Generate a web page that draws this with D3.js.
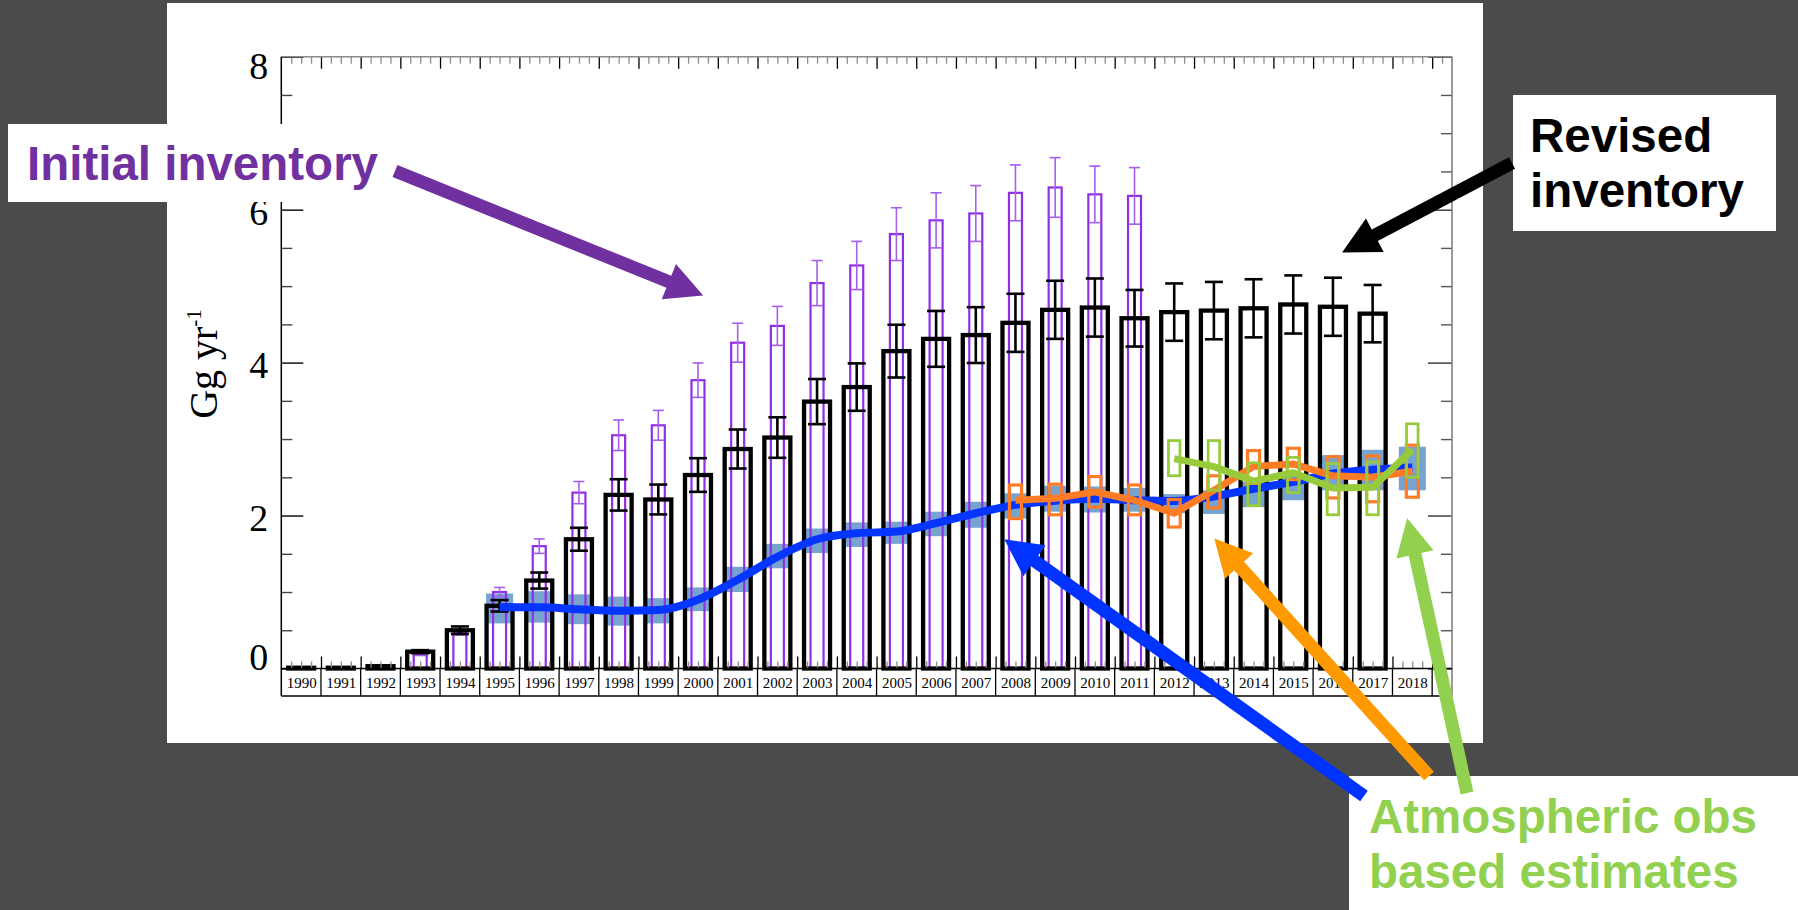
<!DOCTYPE html>
<html>
<head>
<meta charset="utf-8">
<script src="https://cdn.jsdelivr.net/npm/d3@7"></script>
<style>
  html, body { margin: 0; padding: 0; background: #4b4b4b; }
  svg { display: block; }
</style>
</head>
<body>
<svg id="chart" width="1798" height="910"></svg>
<script>
// ---- data ---------------------------------------------------------------
const years = [1990, 1991, 1992, 1993, 1994, 1995, 1996, 1997, 1998, 1999,
               2000, 2001, 2002, 2003, 2004, 2005, 2006, 2007, 2008, 2009,
               2010, 2011, 2012, 2013, 2014, 2015, 2016, 2017, 2018];

// revised inventory (black bars), Gg/yr
const revised    = [0.01, 0.01, 0.03, 0.22, 0.50, 0.82, 1.15, 1.69, 2.27, 2.21,
                    2.53, 2.87, 3.02, 3.49, 3.68, 4.15, 4.31, 4.36, 4.52, 4.69,
                    4.72, 4.58, 4.66, 4.68, 4.71, 4.76, 4.73, 4.64, null];
const revisedErr = [0, 0, 0.005, 0.02, 0.05, 0.075, 0.105, 0.15, 0.205, 0.195,
                    0.22, 0.255, 0.265, 0.295, 0.31, 0.345, 0.365, 0.365, 0.38, 0.38,
                    0.38, 0.37, 0.375, 0.375, 0.38, 0.38, 0.38, 0.375, null];

// initial inventory (purple bars)
const initial    = [0.005, 0.005, 0.02, 0.18, 0.47, 1.00, 1.60, 2.30, 3.05, 3.18,
                    3.77, 4.26, 4.48, 5.04, 5.27, 5.68, 5.86, 5.95, 6.22, 6.29,
                    6.20, 6.18, null, null, null, null, null, null, null];
const initialErr = [0, 0, 0, 0.01, 0.03, 0.06, 0.095, 0.145, 0.20, 0.195,
                    0.225, 0.255, 0.255, 0.295, 0.315, 0.345, 0.36, 0.365, 0.365, 0.39,
                    0.37, 0.37, null, null, null, null, null, null, null];

// global estimate (blue line with shaded range)
const globalYears = [1995, 1996, 1997, 1998, 1999, 2000, 2001, 2002, 2003, 2004, 2005, 2006,
                     2007, 2008, 2009, 2010, 2011, 2012, 2013, 2014, 2015, 2016, 2017, 2018];
const globalMid   = [0.80, 0.80, 0.775, 0.755, 0.765, 0.90, 1.16, 1.46, 1.69, 1.77, 1.79, 1.90,
                     2.03, 2.14, 2.195, 2.22, 2.20, 2.19, 2.25, 2.35, 2.44, 2.55, 2.60, 2.63];
const globalLo    = [0.59, 0.60, 0.58, 0.56, 0.59, 0.75, 1.00, 1.31, 1.51, 1.59, 1.63, 1.73,
                     1.84, 1.96, 2.05, 2.04, 2.05, 2.03, 2.02, 2.11, 2.20, 2.33, 2.33, 2.33];
const globalHi    = [0.98, 1.01, 0.97, 0.94, 0.92, 1.06, 1.33, 1.63, 1.83, 1.91, 1.92, 2.05,
                     2.18, 2.29, 2.39, 2.38, 2.36, 2.28, 2.33, 2.44, 2.53, 2.79, 2.86, 2.90];

// regional estimate A (orange)
const orangeYears = [2008, 2009, 2010, 2011, 2012, 2013, 2014, 2015, 2016, 2017, 2018];
const orangeMid   = [2.20, 2.225, 2.31, 2.20, 2.03, 2.33, 2.64, 2.675, 2.52, 2.50, 2.58];
const orangeLo    = [1.96, 2.01, 2.11, 2.01, 1.85, 2.10, 2.42, 2.47, 2.23, 2.18, 2.24];
const orangeHi    = [2.40, 2.41, 2.51, 2.40, 2.21, 2.52, 2.85, 2.88, 2.77, 2.78, 2.92];

// regional estimate B (green)
const greenYears = [2012, 2013, 2014, 2015, 2016, 2017, 2018];
const greenMid   = [2.745, 2.64, 2.45, 2.56, 2.36, 2.37, 2.86];
const greenLo    = [2.52, 2.33, 2.13, 2.30, 2.01, 2.01, 2.50];
const greenHi    = [2.98, 2.98, 2.69, 2.76, 2.68, 2.70, 3.20];

const yTicks = [0, 2, 4, 6, 8];
const yTitle = "Gg yr";
const yTitleSup = "-1";

// ---- layout -------------------------------------------------------------
const W = 1798, H = 910;
const plot = { left: 281.3, right: 1452, top: 56.7, bottom: 668.5, strip: 696 };
const serif = "'Liberation Serif', 'Times New Roman', serif";
const sans = "'Liberation Sans', Arial, sans-serif";

const x = d3.scaleLinear().domain([1989.5, 2019]).range([plot.left, plot.right]);
const y = d3.scaleLinear().domain([0, 8]).range([plot.bottom, plot.top]);

const svg = d3.select("#chart");
svg.append("rect").attr("width", W).attr("height", H).attr("fill", "#4b4b4b");
svg.append("rect").attr("x", 167).attr("y", 3).attr("width", 1316).attr("height", 740).attr("fill", "#fff");

// ---- shaded range of the global estimate -------------------------------
const gRows = globalYears.map((yr, i) => ({ yr, mid: globalMid[i], lo: globalLo[i], hi: globalHi[i] }));
svg.append("g").selectAll("rect").data(gRows).join("rect")
  .attr("x", d => x(d.yr) - 13.5).attr("width", 27)
  .attr("y", d => y(d.hi)).attr("height", d => y(d.lo) - y(d.hi))
  .attr("fill", "#77a3d0");

// ---- bars ---------------------------------------------------------------
const rows = years.map((yr, i) => ({ yr, rev: revised[i], revE: revisedErr[i], ini: initial[i], iniE: initialErr[i] }));

function errorBars(g, data, val, err, cap, color, width) {
  const d0 = data.filter(d => d[val] != null && d[err] > 0);
  const sel = g.selectAll("g").data(d0).join("g").attr("stroke", color).attr("stroke-width", width);
  sel.append("line").attr("x1", d => x(d.yr)).attr("x2", d => x(d.yr))
    .attr("y1", d => y(d[val] - d[err])).attr("y2", d => y(d[val] + d[err]));
  sel.append("line").attr("x1", d => x(d.yr) - cap / 2).attr("x2", d => x(d.yr) + cap / 2)
    .attr("y1", d => y(d[val] + d[err])).attr("y2", d => y(d[val] + d[err]));
  sel.append("line").attr("x1", d => x(d.yr) - cap / 2).attr("x2", d => x(d.yr) + cap / 2)
    .attr("y1", d => y(d[val] - d[err])).attr("y2", d => y(d[val] - d[err]));
}

const purple = svg.append("g");
purple.selectAll("rect").data(rows.filter(d => d.ini != null)).join("rect")
  .attr("x", d => x(d.yr) - 6.5).attr("width", 13)
  .attr("y", d => y(d.ini)).attr("height", d => y(0) - y(d.ini))
  .attr("fill", "none").attr("stroke", "#9030e6").attr("stroke-width", 2.2);
errorBars(purple.append("g"), rows, "ini", "iniE", 11, "#a45ef0", 1.6);

const black = svg.append("g");
black.selectAll("rect").data(rows.filter(d => d.rev != null)).join("rect")
  .attr("x", d => x(d.yr) - 13).attr("width", 26)
  .attr("y", d => y(d.rev)).attr("height", d => y(0) - y(d.rev))
  .attr("fill", "none").attr("stroke", "#000").attr("stroke-width", 4.3);
errorBars(black.append("g"), rows, "rev", "revE", 18, "#000", 2.6);

// ---- lines --------------------------------------------------------------
svg.append("path").datum(gRows)
  .attr("d", d3.line().x(d => x(d.yr)).y(d => y(d.mid)).curve(d3.curveMonotoneX))
  .attr("fill", "none").attr("stroke", "#0536ff").attr("stroke-width", 8);

function boxSeries(yrs, mid, lo, hi, color, boxW, boxStroke, lineW) {
  const data = yrs.map((yr, i) => ({ yr, mid: mid[i], lo: lo[i], hi: hi[i] }));
  const g = svg.append("g");
  g.selectAll("rect").data(data).join("rect")
    .attr("x", d => x(d.yr) - boxW / 2).attr("width", boxW)
    .attr("y", d => y(d.hi)).attr("height", d => y(d.lo) - y(d.hi))
    .attr("fill", "none").attr("stroke", color).attr("stroke-width", boxStroke);
  g.append("path").datum(data)
    .attr("d", d3.line().x(d => x(d.yr)).y(d => y(d.mid)))
    .attr("fill", "none").attr("stroke", color).attr("stroke-width", lineW)
    .attr("stroke-linejoin", "round");
}
boxSeries(orangeYears, orangeMid, orangeLo, orangeHi, "#ff7c26", 12, 3.2, 7);
boxSeries(greenYears, greenMid, greenLo, greenHi, "#97cb3c", 11.5, 2.8, 7);

// ---- frame and axes -----------------------------------------------------
const axes = svg.append("g");
const quarters = d3.range(1989.75, 2019, 0.25);
const bounds = d3.range(1990.5, 2019, 1);
const isBound = t => Math.abs((t - 0.5) - Math.round(t - 0.5)) < 1e-6;

// top axis: short ticks pointing down
axes.append("g").attr("transform", `translate(0,${plot.top})`)
  .call(d3.axisBottom(x).tickValues(quarters).tickSize(7).tickSizeOuter(0).tickFormat(""))
  .call(g => g.select(".domain").remove())
  .call(g => g.selectAll(".tick line").attr("stroke", d => isBound(d) ? "#000" : "#8c8c8c")
    .attr("y2", d => isBound(d) ? 12 : 7).attr("stroke-width", 1.3));

// bottom: ticks pointing up from the zero line
axes.append("g").attr("transform", `translate(0,${plot.bottom})`)
  .call(d3.axisTop(x).tickValues(quarters).tickSize(7).tickSizeOuter(0).tickFormat(""))
  .call(g => g.select(".domain").remove())
  .call(g => g.selectAll(".tick line").attr("stroke", d => isBound(d) ? "#000" : "#8c8c8c")
    .attr("y2", d => isBound(d) ? -12 : -7).attr("stroke-width", 1.3));

// label strip separators
axes.append("g").selectAll("line").data(bounds.filter(b => b < 2019)).join("line")
  .attr("x1", d => x(d)).attr("x2", d => x(d))
  .attr("y1", plot.bottom).attr("y2", plot.strip)
  .attr("stroke", "#000").attr("stroke-width", 1.3);

// y ticks, left (pointing right) and right (pointing left)
const yMinor = d3.range(0.5, 8, 0.5).filter(v => v % 2 !== 0);
function yTickGroup(axisFn, xPos, values, size, color) {
  axes.append("g").attr("transform", `translate(${xPos},0)`)
    .call(axisFn(y).tickValues(values).tickSize(size).tickSizeOuter(0).tickFormat(""))
    .call(g => g.select(".domain").remove())
    .call(g => g.selectAll(".tick line").attr("stroke", color).attr("stroke-width", 1.4));
}
yTickGroup(d3.axisRight, plot.left, yTicks, 22, "#000");
yTickGroup(d3.axisRight, plot.left, yMinor, 11, "#444");
yTickGroup(d3.axisLeft, plot.right, yTicks, 24, "#333");
yTickGroup(d3.axisLeft, plot.right, yMinor, 11, "#555");

// frame lines
axes.append("line").attr("x1", plot.left).attr("x2", plot.right).attr("y1", plot.top).attr("y2", plot.top)
  .attr("stroke", "#8a8a8a").attr("stroke-width", 1.5);
axes.append("line").attr("x1", plot.right).attr("x2", plot.right).attr("y1", plot.top).attr("y2", plot.strip)
  .attr("stroke", "#777").attr("stroke-width", 1.5);
axes.append("line").attr("x1", plot.left).attr("x2", plot.left).attr("y1", plot.top).attr("y2", plot.strip)
  .attr("stroke", "#000").attr("stroke-width", 1.5);
axes.append("line").attr("x1", plot.left).attr("x2", plot.right).attr("y1", plot.bottom).attr("y2", plot.bottom)
  .attr("stroke", "#000").attr("stroke-width", 1.3);
axes.append("line").attr("x1", plot.left).attr("x2", plot.right).attr("y1", plot.strip).attr("y2", plot.strip)
  .attr("stroke", "#000").attr("stroke-width", 1.5);

// year labels
axes.append("g").attr("transform", `translate(0,${plot.bottom})`)
  .call(d3.axisBottom(x).tickValues(years).tickSize(0).tickPadding(9).tickFormat(d3.format("d")))
  .call(g => g.select(".domain").remove())
  .call(g => g.selectAll("text").attr("font-family", serif).attr("font-size", 15).attr("fill", "#000"));

// value labels; the end labels are pulled inside the frame
axes.append("g").attr("transform", `translate(${plot.left},0)`)
  .call(d3.axisLeft(y).tickValues(yTicks).tickSize(0).tickPadding(13))
  .call(g => g.select(".domain").remove())
  .call(g => g.selectAll("text").attr("font-family", serif).attr("font-size", 38).attr("fill", "#000")
    .attr("transform", d => `translate(0,${d === 0 ? -11 : d === 8 ? 10 : 3})`));

// axis title
const title = svg.append("text")
  .attr("transform", `translate(217,364) rotate(-90)`)
  .attr("text-anchor", "middle").attr("font-family", serif).attr("font-size", 40).attr("fill", "#000");
title.append("tspan").text(yTitle);
title.append("tspan").attr("font-size", 21).attr("dy", -16).text(yTitleSup);

// ---- annotations --------------------------------------------------------
function arrowPath(x0, y0, x1, y1, shaft, headW, headL) {
  const dx = x1 - x0, dy = y1 - y0, L = Math.hypot(dx, dy);
  const ux = dx / L, uy = dy / L, px = -uy, py = ux;
  const bx = x1 - ux * headL, by = y1 - uy * headL;
  const pts = [
    [x0 + px * shaft / 2, y0 + py * shaft / 2],
    [bx + px * shaft / 2, by + py * shaft / 2],
    [bx + px * headW / 2, by + py * headW / 2],
    [x1, y1],
    [bx - px * headW / 2, by - py * headW / 2],
    [bx - px * shaft / 2, by - py * shaft / 2],
    [x0 - px * shaft / 2, y0 - py * shaft / 2]
  ];
  return "M" + pts.map(p => p.join(",")).join("L") + "Z";
}

const notes = svg.append("g");
notes.append("rect").attr("x", 8).attr("y", 124).attr("width", 384).attr("height", 78).attr("fill", "#fff");
notes.append("rect").attr("x", 1513).attr("y", 95).attr("width", 263).attr("height", 136).attr("fill", "#fff");
notes.append("rect").attr("x", 1349).attr("y", 776).attr("width", 449).attr("height", 134).attr("fill", "#fff");

notes.append("text").attr("x", 27).attr("y", 180)
  .attr("font-family", sans).attr("font-weight", "bold").attr("font-size", 47.5).attr("fill", "#7030a0")
  .text("Initial inventory");

const rev = notes.append("text").attr("font-family", sans).attr("font-weight", "bold")
  .attr("font-size", 47.5).attr("fill", "#000");
rev.append("tspan").attr("x", 1530).attr("y", 152).text("Revised");
rev.append("tspan").attr("x", 1530).attr("y", 207).text("inventory");

const atm = notes.append("text").attr("font-family", sans).attr("font-weight", "bold")
  .attr("font-size", 47.5).attr("fill", "#92d050");
atm.append("tspan").attr("x", 1369).attr("y", 833).text("Atmospheric obs");
atm.append("tspan").attr("x", 1369).attr("y", 888).text("based estimates");

const arrows = [
  { from: [395, 171], to: [x(2000.13), y(4.876)], color: "#7030a0" },
  { from: [1512, 163], to: [x(2016.23), y(5.44)], color: "#000" },
  { from: [1364, 796], to: [x(2007.72), y(1.69)], color: "#0033ff" },
  { from: [1429, 776], to: [x(2013.01), y(1.70)], color: "#ff9900" },
  { from: [1467, 793], to: [x(2017.87), y(1.965)], color: "#92d050" }
];
notes.selectAll("path.arrow").data(arrows).join("path").attr("class", "arrow")
  .attr("d", d => arrowPath(d.from[0], d.from[1], d.to[0], d.to[1], 13, 38, 37))
  .attr("fill", d => d.color);
</script>
</body>
</html>
